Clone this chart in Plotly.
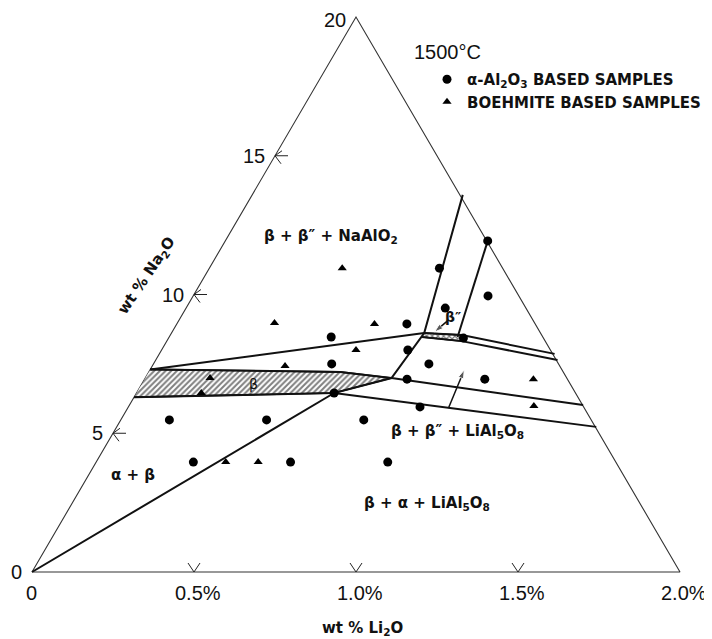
import numpy as np
import plotly.graph_objects as go

# ---------------- data (wt% Li2O, wt% Na2O) ----------------
# alpha-Al2O3 based samples
alpha_li = [0.50, 0.55, 0.61, 0.15, 0.45, 0.30, 0.60, 0.71, 0.91, 0.80,
            0.71, 0.76, 0.85, 0.81, 1.05, 0.90, 0.75, 0.90, 0.91, 0.81]
alpha_na = [8.47, 7.50, 6.45, 5.48, 5.48, 3.96, 3.96, 10.95, 9.95, 9.51,
            8.94, 8.00, 7.50, 6.95, 6.95, 5.95, 5.48, 3.96, 8.43, 11.93]
# boehmite based samples
boeh_li = [0.41, 0.30, 0.61, 0.60, 0.41, 0.20, 0.20, 0.40, 0.50, 1.20, 1.25]
boeh_na = [10.95, 8.97, 8.94, 8.00, 7.42, 6.99, 6.45, 3.96, 3.96, 6.95, 5.98]

# phase boundaries (polylines)
bnd_origin_li = [0.0, 0.61]
bnd_origin_na = [0.0, 6.45]
bnd_beta_low_li = [0.0, 0.61, 0.76, 0.78, 0.65]
bnd_beta_low_na = [6.30, 6.45, 6.99, 8.61, 13.59]
bnd_beta_top_li = [0.0, 0.59, 0.76]
bnd_beta_top_na = [7.30, 7.21, 6.99]
bnd_upper_li = [0.0, 0.78]
bnd_upper_na = [7.30, 8.61]
bnd_bpp_top_li = [0.78, 0.90, 1.22]
bnd_bpp_top_na = [8.61, 8.54, 7.86]
bnd_bpp_bot_li = [0.78, 0.91, 1.24]
bnd_bpp_bot_na = [8.47, 8.32, 7.64]
bnd_bpp_right_li = [0.89, 0.81]
bnd_bpp_right_na = [8.47, 11.93]
bnd_mid_li = [0.76, 1.40]
bnd_mid_na = [6.99, 6.02]
bnd_low_li = [0.61, 1.48]
bnd_low_na = [6.45, 5.23]

# pointer arrows (tail -> head)
arrow_li = [[0.99, 0.97], [0.83, 0.81]]
arrow_na = [[5.91, 7.28], [9.05, 8.65]]

# axis ticks
li_ticks = [0.0, 0.5, 1.0, 1.5, 2.0]
li_tick_text = ["0", "0.5%", "1.0%", "1.5%", "2.0%"]
na_ticks = [0, 5, 10, 15, 20]
na_tick_text = ["0", "5", "10", "15", "20"]

LI_MAX, NA_MAX = 2.0, 20.0


def to_xy(li, na):
    li = np.asarray(li, dtype=float)
    na = np.asarray(na, dtype=float)
    return li + na / NA_MAX * (LI_MAX / 2), na


W, H = 712, 639
OFF = 8  # page body margin
X0PX, Y0PX, XSC, YSC = 32.0 - OFF, 572.0 - OFF, 324.0, 27.75  # plot geometry


def pp(px, py):
    """page pixel position -> paper coords (layout helper)"""
    return (px - OFF) / W, 1 - (py - OFF) / H


fig = go.Figure()
INK = "#111111"

# triangle frame
fx, fy = to_xy([0, LI_MAX, 0, 0], [0, 0, NA_MAX, 0])
fig.add_trace(go.Scatter(x=fx, y=fy, mode="lines", line=dict(color="#333333", width=1.1),
                         showlegend=False, hoverinfo="skip"))

# hatched beta band
band_li = bnd_beta_top_li + bnd_beta_low_li[2::-1]
band_na = bnd_beta_top_na + bnd_beta_low_na[2::-1]
bx, by = to_xy(band_li, band_na)
fig.add_trace(go.Scatter(x=bx, y=by, mode="lines", fill="toself",
                         fillcolor="white", line=dict(color=INK, width=1.6),
                         fillpattern=dict(shape="/", size=4, solidity=0.5,
                                          fgcolor="black", bgcolor="white"),
                         showlegend=False, hoverinfo="skip"))
# beta'' sliver
sl_li = bnd_bpp_top_li[:2] + bnd_bpp_bot_li[1::-1]
sl_na = bnd_bpp_top_na[:2] + bnd_bpp_bot_na[1::-1]
sx, sy = to_xy(sl_li, sl_na)
fig.add_trace(go.Scatter(x=sx, y=sy, mode="lines", fill="toself",
                         line=dict(color=INK, width=1.5),
                         fillpattern=dict(shape="x", size=4, solidity=0.5,
                                          fgcolor="black", bgcolor="white"),
                         showlegend=False, hoverinfo="skip"))

# boundary lines
for li, na in [(bnd_origin_li, bnd_origin_na), (bnd_beta_low_li, bnd_beta_low_na),
               (bnd_beta_top_li, bnd_beta_top_na), (bnd_upper_li, bnd_upper_na),
               (bnd_bpp_top_li, bnd_bpp_top_na), (bnd_bpp_bot_li, bnd_bpp_bot_na),
               (bnd_bpp_right_li, bnd_bpp_right_na), (bnd_mid_li, bnd_mid_na),
               (bnd_low_li, bnd_low_na)]:
    x, y = to_xy(li, na)
    fig.add_trace(go.Scatter(x=x, y=y, mode="lines", line=dict(color=INK, width=2),
                             showlegend=False, hoverinfo="skip"))

# pointer arrows
for li, na in zip(arrow_li, arrow_na):
    x, y = to_xy(li, na)
    fig.add_trace(go.Scatter(x=x, y=y, mode="lines+markers",
                             line=dict(color=INK, width=1.5),
                             marker=dict(symbol="arrow", size=[0, 9], angleref="previous",
                                         color=INK),
                             showlegend=False, hoverinfo="skip"))

# tick marks
dxp, dyp = 1 / XSC, 1 / YSC
tx, ty = [], []
for v in li_ticks[1:-1]:
    x, y = to_xy([v], [0])
    x, y = x[0], y[0]
    tx += [x - 6 * dxp, x, x + 6 * dxp, None]
    ty += [y + 9 * dyp, y, y + 9 * dyp, None]
for v in na_ticks[1:-1]:
    x, y = to_xy([0], [v])
    x, y = x[0], y[0]
    tx += [x + 7 * dxp, x, x + 6 * dxp, None, x, x + 13 * dxp, None]
    ty += [y + 5 * dyp, y, y - 8 * dyp, None, y, y, None]
fig.add_trace(go.Scatter(x=tx, y=ty, mode="lines", line=dict(color="#222", width=1),
                         showlegend=False, hoverinfo="skip"))

# samples
ax_, ay_ = to_xy(alpha_li, alpha_na)
fig.add_trace(go.Scatter(x=ax_, y=ay_, mode="markers", legendgroup="a",
                         name="α-Al<sub>2</sub>O<sub>3</sub> BASED SAMPLES",
                         marker=dict(symbol="circle", size=9, color="black")))
bx_, by_ = to_xy(boeh_li, boeh_na)
fig.add_trace(go.Scatter(x=bx_, y=by_, mode="markers", legendgroup="b",
                         name="BOEHMITE BASED SAMPLES",
                         marker=dict(symbol="triangle-up", size=8, color="black")))

ann = []
tickfont = dict(family="Liberation Sans", size=20, color="#111")
for v, t in zip(li_ticks, li_tick_text):
    x, y = to_xy([v], [0])
    ann.append(dict(x=x[0], y=y[0], xref="x", yref="y", text=t, showarrow=False,
                    font=tickfont, xanchor="center", yanchor="middle",
                    xshift=4 if v > 0 else -1, yshift=-21))
for v, t in zip(na_ticks, na_tick_text):
    x, y = to_xy([0], [v])
    ann.append(dict(x=x[0], y=y[0], xref="x", yref="y", text=t, showarrow=False,
                    font=tickfont, xanchor="right", yanchor="middle",
                    xshift=-8, yshift=-3 if v == NA_MAX else 0))

lab = dict(family="DejaVu Sans", size=15, color="#111", weight="bold")


def label(px, py, text, font=lab, angle=0):
    x, y = pp(px, py)
    ann.append(dict(x=x, y=y, xref="paper", yref="paper", text=text, showarrow=False,
                    font=font, xanchor="center", yanchor="middle", textangle=angle))


label(331, 236, "β + β″ + NaAlO<sub>2</sub>")
label(253, 384, "β", dict(family="DejaVu Sans", size=14, color="#111"))
label(453, 317, "β″", dict(family="DejaVu Sans", size=14, color="#111", weight="bold"))
label(457, 431, "β + β″ + LiAl<sub>5</sub>O<sub>8</sub>")
label(427, 503, "β + α + LiAl<sub>5</sub>O<sub>8</sub>")
label(133, 475, "α + β")
label(448, 52, "1500°C", dict(family="Liberation Sans", size=20, color="#111"))
label(146, 276, "wt % Na<sub>2</sub>O", dict(family="DejaVu Sans", size=15, color="#111",
                                             weight="bold"), angle=-56)
label(362, 628, "wt % Li<sub>2</sub>O", dict(family="DejaVu Sans", size=15, color="#111",
                                            weight="bold"))

lx, ly = pp(427, 63)
fig.update_layout(
    width=W, height=H, autosize=False,
    margin=dict(l=0, r=0, t=0, b=0, pad=0),
    paper_bgcolor="white", plot_bgcolor="white",
    xaxis=dict(range=[-X0PX / XSC, (W - X0PX) / XSC], visible=False, fixedrange=True),
    yaxis=dict(range=[(Y0PX - H) / YSC, Y0PX / YSC], visible=False, fixedrange=True),
    annotations=ann,
    showlegend=True,
    legend=dict(x=lx, y=ly, xanchor="left", yanchor="top", bgcolor="rgba(0,0,0,0)",
                font=dict(family="DejaVu Sans", size=15, color="#111", weight="bold"),
                tracegroupgap=0, itemclick=False),
)

fig.write_html("out.html")
